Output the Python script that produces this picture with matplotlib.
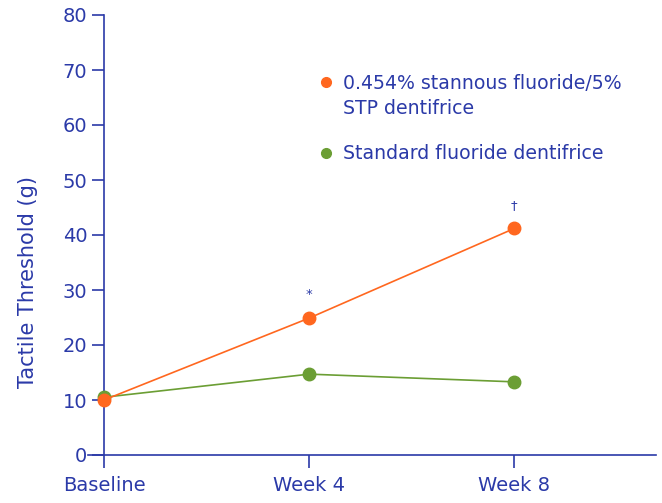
import matplotlib.pyplot as plt
from matplotlib.lines import Line2D

# data
timepoints = ['Baseline', 'Week 4', 'Week 8']
stannous = [10.0, 24.9, 41.2]
standard = [10.5, 14.7, 13.3]
marks = ['', '*', '\u2020']
yticks = [0, 10, 20, 30, 40, 50, 60, 70, 80]

navy = '#2b3aa8'
orange = '#ff671f'
green = '#6b9e34'

plt.rcParams['font.family'] = ['DejaVu Sans']

fig = plt.figure(figsize=(6.62, 5.03), dpi=100)
ax = fig.add_axes([88 / 662, 48 / 503, (656 - 88) / 662, 440 / 503])

x = list(range(len(timepoints)))
ax.plot(x, standard, color=green, lw=1.2, marker='o', ms=9, clip_on=False, zorder=3)
ax.plot(x, stannous, color=orange, lw=1.2, marker='o', ms=9, clip_on=False, zorder=4)

# significance marks above the stannous points
for xi, yi, m in zip(x, stannous, marks):
    if m:
        ax.annotate(m, (xi, yi), xytext=(0, 12), textcoords='offset points',
                    ha='center', va='bottom', fontsize=9.5, color=navy)

ax.set_xlim(-0.078, 2.69)
ax.set_ylim(0, 80)
ax.set_xticks(x)
ax.set_xticklabels(timepoints)
ax.set_yticks(yticks)

for s in ['top', 'right']:
    ax.spines[s].set_visible(False)
ax.spines['left'].set_position(('data', 0))
for s in ['left', 'bottom']:
    ax.spines[s].set_color(navy)
    ax.spines[s].set_linewidth(1.2)
ax.tick_params(axis='both', colors=navy, labelcolor=navy, labelsize=14,
               length=9, width=1.2)
ax.tick_params(axis='x', pad=6)
ax.tick_params(axis='y', pad=3)

ax.set_ylabel('Tactile Threshold (g)', color=navy, fontsize=15)
ax.yaxis.set_label_coords(-0.088, 0.393)

# legend: orange entry wraps to two lines, marker on the first line
leg1 = ax.legend(
    [Line2D([], [], ls='none', marker='o', ms=7, color=orange),
     Line2D([], [], ls='none')],
    ['0.454% stannous fluoride/5%', 'STP dentifrice'],
    loc='upper left', bbox_to_anchor=(0.375, 0.905), frameon=False, fontsize=13.6,
    handlelength=0.8, handletextpad=0.5, labelspacing=0.32, labelcolor=navy)
ax.add_artist(leg1)
ax.legend(
    [Line2D([], [], ls='none', marker='o', ms=7, color=green)],
    ['Standard fluoride dentifrice'],
    loc='upper left', bbox_to_anchor=(0.375, 0.745), frameon=False, fontsize=13.6,
    handlelength=0.8, handletextpad=0.5, labelcolor=navy)

fig.savefig('out.png', dpi=100)
